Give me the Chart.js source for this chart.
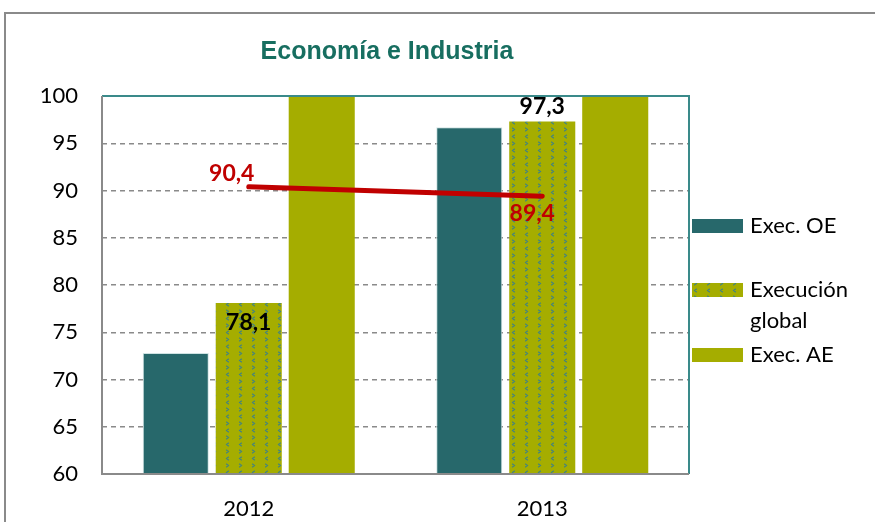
<!DOCTYPE html>
<html>
<head>
<meta charset="utf-8">
<script src="https://cdn.jsdelivr.net/npm/chart.js@4"></script>
<style>
  html, body { margin: 0; padding: 0; background: #fff; }
  #wrap { width: 875px; height: 522px; position: relative; }
</style>
</head>
<body>
<div id="wrap"><canvas id="chart" width="875" height="522"></canvas></div>
<script>
// Data
const years = ['2012', '2013'];
const execOE = [72.8, 96.7];
const execGlobal = [78.1, 97.3];
const execAE = [100, 100];
const mediaLine = [90.4, 89.4];
const yTicks = [60, 65, 70, 75, 80, 85, 90, 95, 100];

const TEAL = '#27686b';
const OLIVE = '#a5ad00';
const RED = '#c00000';
const FONT = 'Lato, "Open Sans", sans-serif';

// chevron pattern for "Execución global"
function makePattern() {
    const c = document.createElement('canvas');
    c.width = 13; c.height = 14;
    const g = c.getContext('2d');
    g.fillStyle = OLIVE;
    g.fillRect(0, 0, 13, 14);
    g.strokeStyle = '#3e8088';
    g.lineWidth = 1.1;
    g.lineCap = 'round';
    // ">"
    g.beginPath();
    g.moveTo(5.5, 2); g.lineTo(7.5, 3.5); g.lineTo(5.5, 5);
    g.stroke();
    // "<"
    g.beginPath();
    g.moveTo(7.5, 9); g.lineTo(5.5, 10.5); g.lineTo(7.5, 12);
    g.stroke();
    return g.createPattern(c, 'repeat');
}
const pattern = makePattern();

// frame, title, plot border, labels, legend
const decor = {
    id: 'decor',
    beforeDraw(chart) {
        const ctx = chart.ctx;
        ctx.save();
        ctx.strokeStyle = '#8a8a8a';
        ctx.lineWidth = 2;
        ctx.beginPath();
        ctx.moveTo(5, 522); ctx.lineTo(5, 13); ctx.lineTo(875, 13);
        ctx.stroke();
        ctx.fillStyle = '#176e60';
        ctx.font = 'bold 25px "Liberation Sans", Arial, sans-serif';
        ctx.textAlign = 'center';
        ctx.textBaseline = 'middle';
        ctx.fillText('Economía e Industria', 387, 52);
        ctx.restore();
    },
    afterDatasetsDraw(chart) {
        const ctx = chart.ctx;
        const a = chart.chartArea;
        ctx.save();
        ctx.strokeStyle = '#3a8a8a';
        ctx.lineWidth = 2;
        ctx.beginPath();
        ctx.moveTo(a.left, a.top); ctx.lineTo(a.right, a.top); ctx.lineTo(a.right, a.bottom);
        ctx.stroke();
        ctx.strokeStyle = '#8a8a8a';
        ctx.beginPath();
        ctx.moveTo(a.left, a.top); ctx.lineTo(a.left, a.bottom); ctx.lineTo(a.right, a.bottom);
        ctx.stroke();
        ctx.restore();
    },
    afterDraw(chart) {
        const ctx = chart.ctx;
        ctx.save();
        ctx.textAlign = 'center';
        ctx.textBaseline = 'middle';
        ctx.font = 'bold 23px ' + FONT;
        // global bar labels
        const gm = chart.getDatasetMeta(1);
        ctx.fillStyle = '#000';
        const g0 = gm.data[0], g1 = gm.data[1];
        ctx.fillText(String(execGlobal[0]).replace('.', ','), g0.x, g0.y + 20);
        ctx.fillText(String(execGlobal[1]).replace('.', ','), g1.x, g1.y - 15);
        // line labels
        const lm = chart.getDatasetMeta(3);
        ctx.fillStyle = RED;
        const l0 = lm.data[0], l1 = lm.data[1];
        ctx.fillText(String(mediaLine[0]).replace('.', ','), l0.x - 17, l0.y - 13);
        ctx.fillText(String(mediaLine[1]).replace('.', ','), l1.x - 10, l1.y + 17);

        // legend
        ctx.textAlign = 'left';
        ctx.font = '22px ' + FONT;
        const items = [
            { fill: TEAL, y: 226, lines: ['Exec. OE'] },
            { fill: pattern, y: 290, lines: ['Execución', 'global'] },
            { fill: OLIVE, y: 355, lines: ['Exec. AE'] }
        ];
        items.forEach(it => {
            ctx.fillStyle = it.fill;
            ctx.fillRect(692, it.y - 7, 51, 14);
            ctx.fillStyle = '#000';
            it.lines.forEach((t, i) => ctx.fillText(t, 750, it.y + i * 31));
        });
        ctx.restore();
    }
};

new Chart(document.getElementById('chart'), {
    data: {
        labels: years,
        datasets: [
            { type: 'bar', label: 'Exec. OE', data: execOE, backgroundColor: TEAL,
              borderColor: '#cfe3e3', borderWidth: 1, order: 1 },
            { type: 'bar', label: 'Execución global', data: execGlobal, backgroundColor: pattern,
              borderWidth: 0, order: 1 },
            { type: 'bar', label: 'Exec. AE', data: execAE, backgroundColor: OLIVE,
              borderWidth: 0, order: 1 },
            { type: 'line', label: 'Media', data: mediaLine, borderColor: RED,
              borderWidth: 5, pointRadius: 0, borderCapStyle: 'round', order: 0 }
        ]
    },
    options: {
        responsive: false,
        animation: false,
        events: [],
        layout: { padding: { left: 0, right: 186, top: 96, bottom: 0 } },
        datasets: { bar: { categoryPercentage: 0.746, barPercentage: 0.905 } },
        plugins: { legend: { display: false }, title: { display: false }, tooltip: { enabled: false } },
        scales: {
            x: {
                grid: { display: false, drawTicks: false },
                border: { display: false },
                ticks: { color: '#000', font: { family: FONT, size: 22 }, padding: 22 },
                afterFit(s) { s.height = 48; }
            },
            y: {
                min: 60, max: 100,
                afterBuildTicks(s) { s.ticks = yTicks.map(v => ({ value: v })); },
                grid: { color: '#8a8a8a', drawTicks: false, lineWidth: 1.5 },
                border: { display: false, dash: [5, 4] },
                ticks: { color: '#000', font: { family: FONT, size: 22 }, padding: 24 },
                afterFit(s) { s.width = 102; }
            }
        }
    },
    plugins: [decor]
});
</script>
</body>
</html>
